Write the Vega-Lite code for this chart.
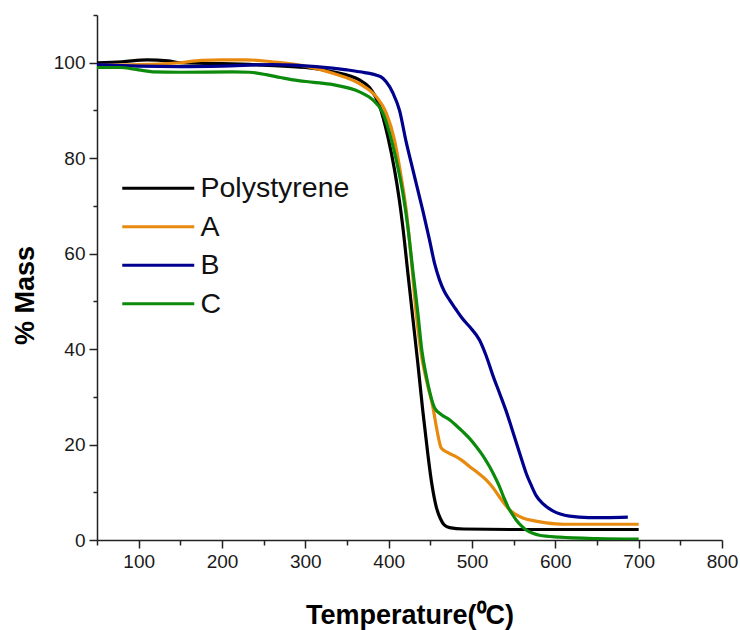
{
  "$schema": "https://vega.github.io/schema/vega-lite/v6.json",
  "width": 625,
  "height": 525,
  "autosize": "none",
  "padding": {"left": 97, "top": 15, "right": 18, "bottom": 90},
  "background": "white",
  "config": {
    "view": {"stroke": null},
    "font": "Liberation Sans",
    "axis": {
      "grid": false,
      "domainColor": "#222",
      "domainWidth": 1.5,
      "tickColor": "#222",
      "tickWidth": 1.5,
      "labelFont": "Liberation Sans",
      "labelFontSize": 19,
      "labelColor": "#1a1a1a",
      "titleFont": "Liberation Sans",
      "titleFontSize": 27,
      "titleFontWeight": "bold",
      "titleColor": "#000"
    },
    "legend": {
      "labelFont": "Liberation Sans",
      "labelFontSize": 28.5,
      "labelColor": "#111",
      "symbolType": "M-3,0H3",
      "symbolSize": 576,
      "symbolStrokeWidth": 3.2,
      "labelOffset": 28,
      "rowPadding": 9.5,
      "padding": 0
    }
  },
  "data": {
    "values": [
      {"S": "Polystyrene", "T": 50, "M": 100.0},
      {"S": "Polystyrene", "T": 80, "M": 100.2},
      {"S": "Polystyrene", "T": 110, "M": 100.6},
      {"S": "Polystyrene", "T": 135, "M": 100.4},
      {"S": "Polystyrene", "T": 150, "M": 100.0},
      {"S": "Polystyrene", "T": 200, "M": 99.8},
      {"S": "Polystyrene", "T": 250, "M": 99.5},
      {"S": "Polystyrene", "T": 300, "M": 99.0},
      {"S": "Polystyrene", "T": 333, "M": 98.1},
      {"S": "Polystyrene", "T": 365, "M": 96.4},
      {"S": "Polystyrene", "T": 377, "M": 94.8},
      {"S": "Polystyrene", "T": 389, "M": 91.0},
      {"S": "Polystyrene", "T": 399, "M": 84.5},
      {"S": "Polystyrene", "T": 407, "M": 77.6},
      {"S": "Polystyrene", "T": 413, "M": 71.0},
      {"S": "Polystyrene", "T": 417, "M": 65.6},
      {"S": "Polystyrene", "T": 423, "M": 56.0},
      {"S": "Polystyrene", "T": 429, "M": 46.5},
      {"S": "Polystyrene", "T": 435, "M": 37.0},
      {"S": "Polystyrene", "T": 441, "M": 27.0},
      {"S": "Polystyrene", "T": 447, "M": 18.0},
      {"S": "Polystyrene", "T": 452, "M": 11.5},
      {"S": "Polystyrene", "T": 457, "M": 7.0},
      {"S": "Polystyrene", "T": 462, "M": 4.5},
      {"S": "Polystyrene", "T": 467, "M": 3.1},
      {"S": "Polystyrene", "T": 473, "M": 2.6},
      {"S": "Polystyrene", "T": 490, "M": 2.3},
      {"S": "Polystyrene", "T": 550, "M": 2.2},
      {"S": "Polystyrene", "T": 620, "M": 2.2},
      {"S": "Polystyrene", "T": 700, "M": 2.2},

      {"S": "A", "T": 50, "M": 99.5},
      {"S": "A", "T": 100, "M": 99.6},
      {"S": "A", "T": 150, "M": 100.0},
      {"S": "A", "T": 175, "M": 100.5},
      {"S": "A", "T": 200, "M": 100.6},
      {"S": "A", "T": 230, "M": 100.6},
      {"S": "A", "T": 260, "M": 100.2},
      {"S": "A", "T": 300, "M": 99.3},
      {"S": "A", "T": 333, "M": 97.8},
      {"S": "A", "T": 365, "M": 95.6},
      {"S": "A", "T": 385, "M": 92.9},
      {"S": "A", "T": 397, "M": 89.5},
      {"S": "A", "T": 407, "M": 83.8},
      {"S": "A", "T": 415, "M": 76.1},
      {"S": "A", "T": 421, "M": 69.2},
      {"S": "A", "T": 427, "M": 59.0},
      {"S": "A", "T": 433, "M": 47.6},
      {"S": "A", "T": 440, "M": 38.0},
      {"S": "A", "T": 446, "M": 33.0},
      {"S": "A", "T": 453, "M": 27.9},
      {"S": "A", "T": 458, "M": 23.0},
      {"S": "A", "T": 463, "M": 19.3},
      {"S": "A", "T": 470, "M": 18.4},
      {"S": "A", "T": 477, "M": 17.8},
      {"S": "A", "T": 487, "M": 16.8},
      {"S": "A", "T": 497, "M": 15.4},
      {"S": "A", "T": 507, "M": 14.1},
      {"S": "A", "T": 517, "M": 12.6},
      {"S": "A", "T": 525, "M": 11.0},
      {"S": "A", "T": 533, "M": 9.0},
      {"S": "A", "T": 539, "M": 7.6},
      {"S": "A", "T": 545, "M": 6.3},
      {"S": "A", "T": 553, "M": 5.3},
      {"S": "A", "T": 561, "M": 4.6},
      {"S": "A", "T": 575, "M": 4.0},
      {"S": "A", "T": 589, "M": 3.6},
      {"S": "A", "T": 610, "M": 3.3},
      {"S": "A", "T": 650, "M": 3.3},
      {"S": "A", "T": 700, "M": 3.3},

      {"S": "B", "T": 50, "M": 99.6},
      {"S": "B", "T": 100, "M": 99.3},
      {"S": "B", "T": 150, "M": 99.2},
      {"S": "B", "T": 200, "M": 99.3},
      {"S": "B", "T": 260, "M": 99.6},
      {"S": "B", "T": 313, "M": 99.2},
      {"S": "B", "T": 350, "M": 98.5},
      {"S": "B", "T": 365, "M": 98.1},
      {"S": "B", "T": 390, "M": 97.1},
      {"S": "B", "T": 397, "M": 96.0},
      {"S": "B", "T": 405, "M": 93.7},
      {"S": "B", "T": 413, "M": 90.0},
      {"S": "B", "T": 421, "M": 83.4},
      {"S": "B", "T": 429, "M": 77.6},
      {"S": "B", "T": 441, "M": 69.0},
      {"S": "B", "T": 449, "M": 62.9},
      {"S": "B", "T": 455, "M": 58.0},
      {"S": "B", "T": 461, "M": 54.5},
      {"S": "B", "T": 467, "M": 52.0},
      {"S": "B", "T": 473, "M": 50.3},
      {"S": "B", "T": 480, "M": 48.5},
      {"S": "B", "T": 488, "M": 46.5},
      {"S": "B", "T": 498, "M": 44.5},
      {"S": "B", "T": 509, "M": 41.9},
      {"S": "B", "T": 517, "M": 38.6},
      {"S": "B", "T": 525, "M": 34.5},
      {"S": "B", "T": 533, "M": 30.8},
      {"S": "B", "T": 541, "M": 27.0},
      {"S": "B", "T": 547, "M": 23.8},
      {"S": "B", "T": 553, "M": 20.5},
      {"S": "B", "T": 559, "M": 17.2},
      {"S": "B", "T": 565, "M": 14.0},
      {"S": "B", "T": 571, "M": 11.5},
      {"S": "B", "T": 577, "M": 9.3},
      {"S": "B", "T": 585, "M": 7.6},
      {"S": "B", "T": 597, "M": 6.1},
      {"S": "B", "T": 617, "M": 5.0},
      {"S": "B", "T": 640, "M": 4.7},
      {"S": "B", "T": 660, "M": 4.7},
      {"S": "B", "T": 687, "M": 4.8},

      {"S": "C", "T": 50, "M": 99.0},
      {"S": "C", "T": 77, "M": 99.0},
      {"S": "C", "T": 100, "M": 98.5},
      {"S": "C", "T": 117, "M": 98.1},
      {"S": "C", "T": 150, "M": 98.0},
      {"S": "C", "T": 213, "M": 98.1},
      {"S": "C", "T": 233, "M": 98.0},
      {"S": "C", "T": 253, "M": 97.5},
      {"S": "C", "T": 270, "M": 96.9},
      {"S": "C", "T": 285, "M": 96.4},
      {"S": "C", "T": 310, "M": 95.9},
      {"S": "C", "T": 333, "M": 95.4},
      {"S": "C", "T": 365, "M": 93.9},
      {"S": "C", "T": 381, "M": 92.2},
      {"S": "C", "T": 393, "M": 89.5},
      {"S": "C", "T": 401, "M": 85.3},
      {"S": "C", "T": 409, "M": 79.7},
      {"S": "C", "T": 417, "M": 72.7},
      {"S": "C", "T": 423, "M": 65.6},
      {"S": "C", "T": 429, "M": 56.5},
      {"S": "C", "T": 435, "M": 47.6},
      {"S": "C", "T": 440, "M": 39.5},
      {"S": "C", "T": 445, "M": 34.5},
      {"S": "C", "T": 450, "M": 30.5},
      {"S": "C", "T": 455, "M": 27.7},
      {"S": "C", "T": 463, "M": 26.3},
      {"S": "C", "T": 473, "M": 25.2},
      {"S": "C", "T": 481, "M": 24.0},
      {"S": "C", "T": 489, "M": 22.7},
      {"S": "C", "T": 497, "M": 21.3},
      {"S": "C", "T": 505, "M": 19.6},
      {"S": "C", "T": 513, "M": 17.7},
      {"S": "C", "T": 521, "M": 15.4},
      {"S": "C", "T": 527, "M": 13.4},
      {"S": "C", "T": 533, "M": 11.2},
      {"S": "C", "T": 538, "M": 9.0},
      {"S": "C", "T": 543, "M": 7.0},
      {"S": "C", "T": 548, "M": 5.5},
      {"S": "C", "T": 553, "M": 4.2},
      {"S": "C", "T": 559, "M": 3.0},
      {"S": "C", "T": 565, "M": 2.1},
      {"S": "C", "T": 573, "M": 1.4},
      {"S": "C", "T": 581, "M": 1.0},
      {"S": "C", "T": 605, "M": 0.6},
      {"S": "C", "T": 650, "M": 0.3},
      {"S": "C", "T": 700, "M": 0.2}
    ]
  },
  "mark": {"type": "line", "strokeWidth": 3.2, "interpolate": "monotone", "clip": true},
  "encoding": {
    "x": {
      "field": "T",
      "type": "quantitative",
      "scale": {"domain": [50, 800], "nice": false, "zero": false},
      "axis": {
        "title": "Temperature(⁰C)",
        "values": [50, 100, 150, 200, 250, 300, 350, 400, 450, 500, 550, 600, 650, 700, 750, 800],
        "labelExpr": "datum.value % 100 === 0 ? datum.label : ''",
        "tickSize": {"condition": {"test": "datum.value % 100 === 0", "value": 8}, "value": 5},
        "labelPadding": 4,
        "labelFlush": false,
        "labelOverlap": false,
        "titleBaseline": "alphabetic",
        "titleY": 83
      }
    },
    "y": {
      "field": "M",
      "type": "quantitative",
      "scale": {"domain": [0, 110], "nice": false},
      "axis": {
        "title": "% Mass",
        "values": [0, 10, 20, 30, 40, 50, 60, 70, 80, 90, 100, 110],
        "labelExpr": "datum.value % 20 === 0 && datum.value <= 100 ? datum.label : ''",
        "tickSize": {"condition": {"test": "datum.value % 20 === 0 && datum.value <= 100", "value": 8}, "value": 4},
        "labelPadding": 4,
        "labelFlush": false,
        "labelOverlap": false,
        "titleAngle": 270,
        "titleAlign": "center",
        "titleBaseline": "alphabetic",
        "titleX": -64,
        "titleY": 280
      }
    },
    "color": {
      "field": "S",
      "type": "nominal",
      "scale": {
        "domain": ["Polystyrene", "A", "B", "C"],
        "range": ["#000000", "#E88A0E", "#00008E", "#0C8A0C"]
      },
      "legend": {
        "title": null,
        "orient": "none",
        "legendX": 47,
        "legendY": 159
      }
    }
  }
}
